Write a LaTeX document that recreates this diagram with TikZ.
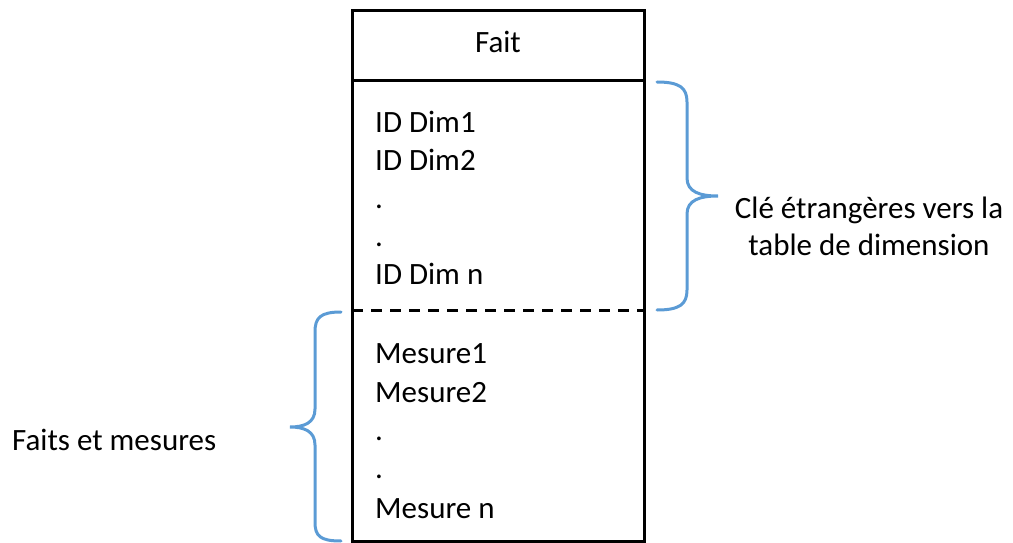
\documentclass[tikz,border=0pt]{standalone}
\usepackage{fontspec}
\setmainfont{Carlito}
\usepackage{tikz}
\definecolor{braceblue}{RGB}{91,155,213}
\tikzset{>=latex}
\tikzset{
	entry/.style={anchor=base west, inner sep=0pt, font=\fontsize{31}{38}\selectfont},
	bracecurve/.style={braceblue, line width=3pt, line cap=round},
}

\begin{document}
\begin{tikzpicture}[x=1pt, y=-1pt]
	\useasboundingbox (0,0) rectangle (1013,543);
	%table
	\coordinate (tl) at (352,11);
	\coordinate (br) at (644,541);
	\draw[line width=3pt] (tl) rectangle (br);
	\draw[line width=3pt] (352,81) -- (644,81);
	\draw[line width=3pt, dash pattern=on 11pt off 8pt] (352,310) -- (644,310);
	\node[entry, anchor=base] (fait) at (498,53) {Fait};
	\node[entry] (dim1) at (375,132) {ID Dim1};
	\node[entry] (dim2) at (375,170) {ID Dim2};
	\node[entry] (dot1) at (375,208) {.};
	\node[entry] (dot2) at (375,246) {.};
	\node[entry] (dimn) at (375,284) {ID Dim n};
	\node[entry] (mes1) at (375,363) {Mesure1};
	\node[entry] (mes2) at (375,402) {Mesure2};
	\node[entry] (dot3) at (375,440) {.};
	\node[entry] (dot4) at (375,478) {.};
	\node[entry] (mesn) at (375,518) {Mesure n};
	%right brace
	\draw[bracecurve] (657,82) .. controls (680,82) and (687,88) .. (687,102)
		-- (687,178) .. controls (687,192) and (700,196) .. (718,196)
		.. controls (700,196) and (687,200) .. (687,214)
		-- (687,290) .. controls (687,304) and (680,310) .. (657,310);
	\node[entry, anchor=base] (cle1) at (869,218) {Clé étrangères vers la};
	\node[entry, anchor=base] (cle2) at (869,255) {table de dimension};
	%left brace
	\draw[bracecurve] (341,312) .. controls (320,312) and (315,318) .. (315,332)
		-- (315,409) .. controls (315,423) and (304,427) .. (290,427)
		.. controls (304,427) and (315,431) .. (315,445)
		-- (315,522) .. controls (315,536) and (320,541) .. (341,541);
	\node[entry] (faits) at (12,450) {Faits et mesures};
\end{tikzpicture}
\end{document}
